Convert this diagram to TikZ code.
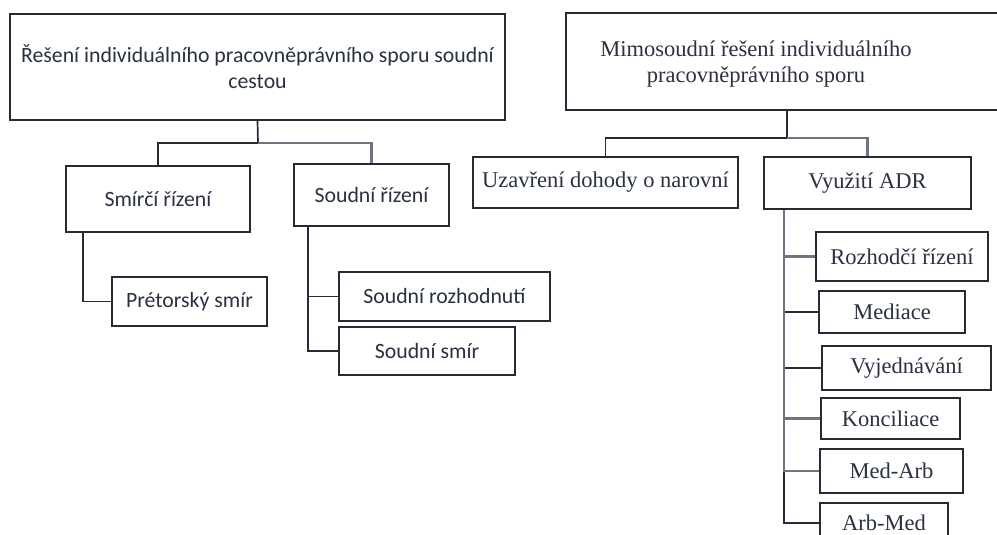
\documentclass[tikz,border=0pt]{standalone}
\usepackage{fontspec}
\setmainfont{Liberation Serif}
\newfontfamily\calfont{Carlito}
\definecolor{linedark}{HTML}{262B36}
\definecolor{linegray}{HTML}{6F7580}
\definecolor{txt}{HTML}{2A3140}
\begin{document}
\begin{tikzpicture}[x=1pt,y=-1pt,
  box/.style={draw=linedark,line width=1.7pt,rectangle,inner sep=0pt,align=center,text=txt},
  lbox/.style={box,font=\calfont\fontsize{21.8}{26}\selectfont},
  rbox/.style={box,font=\fontsize{22.5}{26}\selectfont},
  conn/.style={draw=linedark,line width=1.7pt},
  gconn/.style={draw=linegray,line width=2.3pt}]
\useasboundingbox (0,0) rectangle (997,535);
\clip (0,0) rectangle (997,535);
\fill[white] (0,0) rectangle (997,535);
% left tree
\node[lbox,minimum width=495pt,minimum height=106pt] (lmain) at (257.5,67) {Řešení individuálního pracovněprávního sporu soudní\\cestou};
\node[lbox,minimum width=184pt,minimum height=66pt] (smirci) at (158,199) {Smírčí řízení};
\node[lbox,minimum width=155pt,minimum height=62pt] (soudni) at (371.5,195) {Soudní řízení};
\node[lbox,minimum width=155pt,minimum height=49pt] (pretor) at (189.5,301.5) {Prétorský smír};
\node[lbox,minimum width=211pt,minimum height=49pt] (rozh) at (444.5,296.5) {Soudní rozhodnutí};
\node[lbox,minimum width=176pt,minimum height=48pt] (ssmir) at (427,351) {Soudní smír};
\coordinate (lj) at (258,143);
\draw[conn] (lmain.south) -- (lj);
\draw[conn] (smirci.north) |- (lj);
\draw[gconn] (soudni.north) |- (lj);
\draw[conn] ([xshift=18pt]smirci.south west) |- (pretor.west);
\draw[conn] ([xshift=15pt]soudni.south west) |- (rozh.west);
\draw[conn] ([xshift=15pt]soudni.south west) |- (ssmir.west);
% right tree
\node[rbox,minimum width=442pt,minimum height=97pt] (mimo) at (787,61.5) {};
\node[text=txt,align=center,font=\fontsize{22.5}{26}\selectfont,inner sep=0pt] (mimotxt) at (756,64) {Mimosoudní řešení individuálního\\pracovněprávního sporu};
\node[rbox,minimum width=265pt,minimum height=51pt] (uzav) at (605.5,182.5) {Uzavření dohody o narovní};
\node[rbox,minimum width=207pt,minimum height=52pt] (adr) at (867.5,183) {Využití ADR};
\node[rbox,minimum width=172pt,minimum height=49pt] (rozhod) at (902,256.5) {Rozhodčí řízení};
\node[rbox,minimum width=146pt,minimum height=42pt] (med) at (892,312) {Mediace};
\node[rbox,minimum width=169pt,minimum height=44pt] (vyj) at (906.5,368) {Vyjednávání};
\node[rbox,minimum width=139pt,minimum height=41pt] (konc) at (890.5,418.5) {Konciliace};
\node[rbox,minimum width=143pt,minimum height=44pt] (medarb) at (891.5,471) {Med-Arb};
\node[rbox,minimum width=128pt,minimum height=40pt] (arbmed) at (884,523) {Arb-Med};
\coordinate (rj) at (787,138);
\draw[conn] (mimo.south) -- (rj);
\draw[conn] (uzav.north) |- (rj);
\draw[gconn] (adr.north) |- (rj);
\coordinate (adrs) at ([xshift=21pt]adr.south west);
\draw[conn] (adrs) |- (arbmed.west);
\draw[gconn] (adrs) |- (rozhod.west);
\draw[conn] (adrs) |- (med.west);
\draw[conn] (adrs) |- (vyj.west);
\draw[gconn] (adrs) |- (konc.west);
\draw[gconn] (adrs) |- (medarb.west);
\end{tikzpicture}
\end{document}
